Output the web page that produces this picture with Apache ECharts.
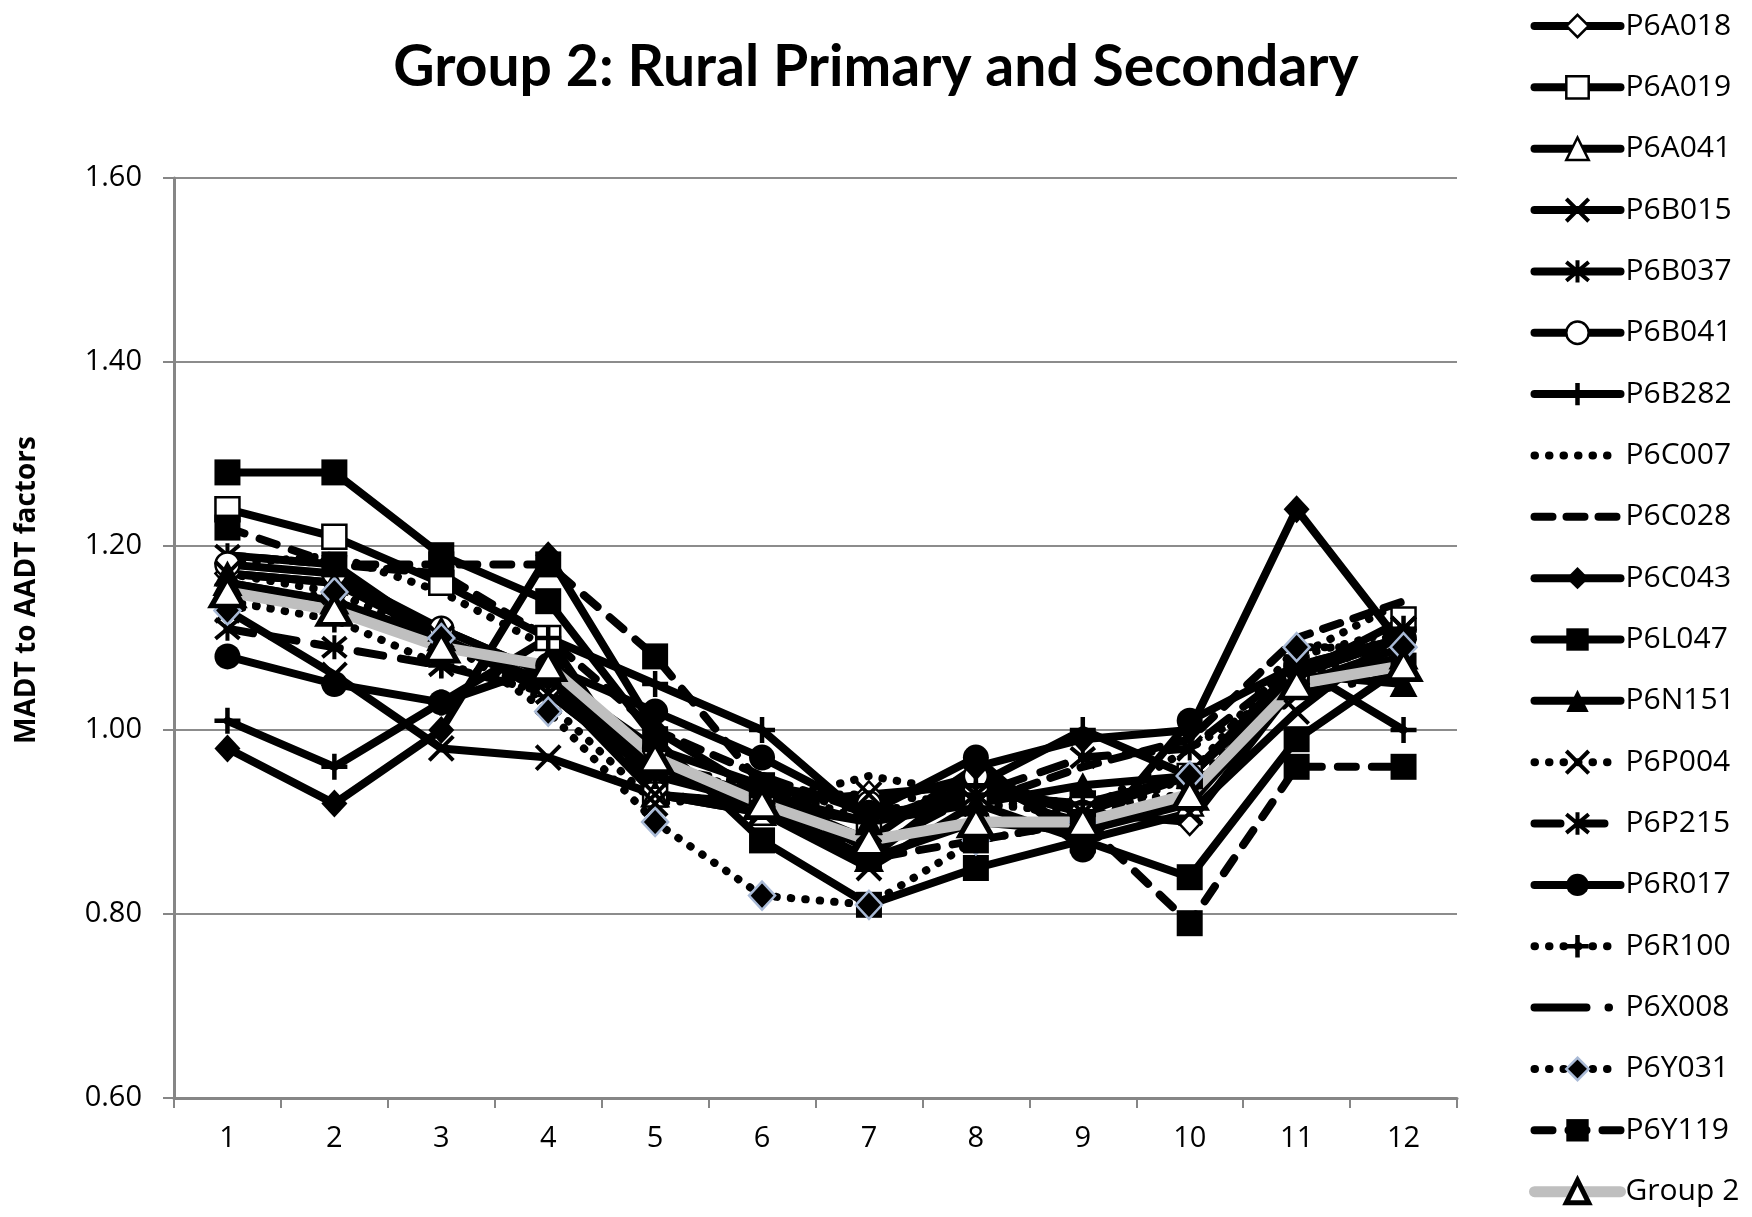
<!DOCTYPE html>
<html>
<head>
<meta charset="utf-8">
<script src="https://cdn.jsdelivr.net/npm/echarts@6/dist/echarts.min.js"></script>
<style>
html,body{margin:0;padding:0;background:#fff;}
#chart{width:1752px;height:1217px;}
</style>
</head>
<body>
<div id="chart"></div>
<script>
const months = ['1','2','3','4','5','6','7','8','9','10','11','12'];
const yTicks = [0.6, 0.8, 1.0, 1.2, 1.4, 1.6];

const P6A018 = [1.17, 1.16, 1.10, 1.05, 0.96, 0.92, 0.93, 0.94, 0.91, 0.90, 1.05, 1.09];
const P6A019 = [1.24, 1.21, 1.16, 1.10, 0.93, 0.92, 0.90, 0.93, 0.92, 0.95, 1.06, 1.12];
const P6A041 = [1.16, 1.14, 1.10, 1.05, 0.93, 0.91, 0.86, 0.90, 0.89, 0.92, 1.05, 1.08];
const P6B015 = [1.13, 1.06, 0.98, 0.97, 0.93, 0.91, 0.85, 0.92, 0.88, 0.91, 1.02, 1.11];
const P6B037 = [1.19, 1.18, 1.10, 1.04, 0.95, 0.92, 0.86, 0.95, 0.89, 0.93, 1.06, 1.10];
const P6B041 = [1.18, 1.17, 1.11, 1.06, 0.98, 0.94, 0.92, 0.95, 0.91, 0.95, 1.06, 1.10];
const P6B282 = [1.01, 0.96, 1.03, 1.10, 1.05, 1.00, 0.90, 0.94, 1.00, 0.95, 1.07, 1.00];
const P6C007 = [1.18, 1.19, 1.15, 1.09, 0.93, 0.92, 0.95, 0.93, 0.92, 0.93, 1.08, 1.14];
const P6C028 = [1.19, 1.18, 1.17, 1.10, 1.00, 0.95, 0.91, 0.92, 0.96, 0.99, 1.10, 1.14];
const P6C043 = [0.98, 0.92, 1.00, 1.19, 1.00, 0.93, 0.88, 0.96, 0.99, 1.00, 1.24, 1.09];
const P6L047 = [1.28, 1.28, 1.19, 1.14, 0.99, 0.88, 0.81, 0.85, 0.88, 0.84, 0.99, 1.07];
const P6N151 = [1.17, 1.16, 1.11, 1.06, 0.96, 0.93, 0.90, 0.92, 0.94, 0.95, 1.06, 1.05];
const P6P004 = [1.17, 1.15, 1.10, 1.03, 0.92, 0.93, 0.93, 0.92, 0.91, 0.98, 1.05, 1.11];
const P6P215 = [1.11, 1.09, 1.07, 1.04, 0.95, 0.93, 0.87, 0.93, 0.97, 0.98, 1.07, 1.10];
const P6R017 = [1.08, 1.05, 1.03, 1.07, 1.02, 0.97, 0.91, 0.97, 0.87, 1.01, 1.07, 1.10];
const P6R100 = [1.14, 1.12, 1.07, 1.05, 0.95, 0.94, 0.90, 0.93, 0.92, 0.95, 1.08, 1.11];
const P6X008 = [1.16, 1.14, 1.09, 1.07, 0.96, 0.94, 0.91, 0.93, 0.90, 0.93, 1.04, 1.06];
const P6Y031 = [1.13, 1.15, 1.10, 1.02, 0.90, 0.82, 0.81, 0.88, 0.90, 0.95, 1.09, 1.09];
const P6Y119 = [1.22, 1.18, 1.18, 1.18, 1.08, 0.94, 0.86, 0.88, 0.90, 0.79, 0.96, 0.96];
const GROUP2 = [1.15, 1.13, 1.09, 1.07, 0.97, 0.92, 0.88, 0.90, 0.90, 0.93, 1.05, 1.07];

const titleText = 'Group 2: Rural Primary and Secondary';
const yAxisTitle = 'MADT to AADT factors';

const SYM_X = 'path://M0,0L10,10M10,0L0,10';
const SYM_AST = 'path://M0,0L10,10M10,0L0,10M5,-1L5,11';
const SYM_PLUS = 'path://M5,0L5,10M0,5L10,5';
const DOT = [0.5, 14];
const TRANSP = 'rgba(0,0,0,0)';

const legendItems = [];

function mk(name, data, o) {
  const lw = o.width || 8;
  const bw = o.bw == null ? 0 : o.bw;
  legendItems.push({
    name: name,
    lineStyle: { width: lw, type: o.dash || 'solid', cap: 'round', color: o.lineColor || '#000' },
    itemStyle: { color: o.fill || '#000', borderColor: o.border || '#000', borderWidth: bw }
  });
  return {
    name: name,
    type: 'line',
    data: data,
    symbol: o.symbol || 'circle',
    symbolSize: o.size == null ? 24 : o.size,
    showSymbol: true,
    lineStyle: { color: o.lineColor || '#000', width: lw, type: o.dash || 'solid', cap: 'round', join: 'round' },
    itemStyle: {
      color: o.fill || '#000',
      borderColor: o.border || '#000',
      borderWidth: bw
    },
    emphasis: { disabled: true },
    z: 2
  };
}

const series = [
  mk('P6A018', P6A018, { symbol: 'diamond', size: [24, 26], fill: '#fff', bw: 2.5 }),
  mk('P6A019', P6A019, { symbol: 'rect', size: 24, fill: '#fff', bw: 2.5 }),
  mk('P6A041', P6A041, { symbol: 'triangle', size: [26, 24], fill: '#fff', bw: 2.5 }),
  mk('P6B015', P6B015, { symbol: SYM_X, size: 24, fill: TRANSP, bw: 4 }),
  mk('P6B037', P6B037, { symbol: SYM_AST, size: 24, fill: TRANSP, bw: 4 }),
  mk('P6B041', P6B041, { symbol: 'circle', size: 24, fill: '#fff', bw: 2.5 }),
  mk('P6B282', P6B282, { symbol: SYM_PLUS, size: 26, fill: TRANSP, bw: 4.5 }),
  mk('P6C007', P6C007, { symbol: 'circle', size: 0, fill: TRANSP, border: TRANSP, dash: DOT }),
  mk('P6C028', P6C028, { symbol: 'circle', size: 0, fill: TRANSP, border: TRANSP, dash: [18, 14] }),
  mk('P6C043', P6C043, { symbol: 'diamond', size: [26, 28], fill: '#000' }),
  mk('P6L047', P6L047, { symbol: 'rect', size: 26, fill: '#000' }),
  mk('P6N151', P6N151, { symbol: 'triangle', size: [28, 26], fill: '#000' }),
  mk('P6P004', P6P004, { symbol: SYM_X, size: 24, fill: TRANSP, bw: 4, dash: DOT }),
  mk('P6P215', P6P215, { symbol: SYM_AST, size: 24, fill: TRANSP, bw: 4, dash: [26, 18] }),
  mk('P6R017', P6R017, { symbol: 'circle', size: 26, fill: '#000' }),
  mk('P6R100', P6R100, { symbol: SYM_PLUS, size: 26, fill: TRANSP, bw: 4.5, dash: DOT }),
  mk('P6X008', P6X008, { symbol: 'circle', size: 0, fill: TRANSP, border: TRANSP, dash: [52, 22, 0.5, 22] }),
  mk('P6Y031', P6Y031, { symbol: 'diamond', size: [26, 28], fill: '#000', border: '#a9bad6', bw: 2.5, dash: DOT }),
  mk('P6Y119', P6Y119, { symbol: 'rect', size: 26, fill: '#000', dash: [18, 16] }),
  mk('Group 2', GROUP2, { symbol: 'triangle', size: [32, 28], fill: '#fff', bw: 5, lineColor: '#bfbfbf', width: 11 })
];

const chart = echarts.init(document.getElementById('chart'), null, { renderer: 'canvas' });
chart.setOption({
  animation: false,
  backgroundColor: '#fff',
  title: {
    text: titleText,
    left: 'center',
    top: 34,
    textStyle: { fontFamily: 'Lato', fontWeight: 'bold', fontSize: 57, color: '#000' }
  },
  graphic: [{
    type: 'text',
    x: 27, y: 590,
    rotation: Math.PI / 2,
    style: {
      text: yAxisTitle,
      font: 'bold 28px "Open Sans"',
      fill: '#000',
      align: 'center',
      verticalAlign: 'middle'
    }
  }],
  legend: {
    orient: 'vertical',
    left: 1524,
    top: 6,
    itemWidth: 86,
    itemHeight: 28,
    itemGap: 31.35,
    selectedMode: false,
    textStyle: { fontFamily: 'Open Sans', fontSize: 30, color: '#000', lineHeight: 30 },
    data: legendItems
  },
  grid: { left: 174, right: 295, top: 178, bottom: 119, containLabel: false },
  xAxis: {
    type: 'category',
    data: months,
    boundaryGap: true,
    axisLine: { show: true, lineStyle: { color: '#868686', width: 3 } },
    axisTick: { show: true, length: 10, lineStyle: { color: '#868686', width: 2 } },
    axisLabel: { fontFamily: 'Open Sans', fontSize: 29, color: '#000', margin: 26 },
    splitLine: { show: false }
  },
  yAxis: {
    type: 'value',
    min: yTicks[0],
    max: yTicks[yTicks.length - 1],
    interval: 0.2,
    axisLine: { show: true, lineStyle: { color: '#868686', width: 3 } },
    axisTick: { show: true, length: 11, lineStyle: { color: '#868686', width: 2 } },
    axisLabel: { fontFamily: 'Open Sans', fontSize: 29, color: '#000', margin: 32, formatter: v => v.toFixed(2) },
    splitLine: { show: true, lineStyle: { color: '#8c8c8c', width: 2 } }
  },
  series: series
});
</script>
</body>
</html>
